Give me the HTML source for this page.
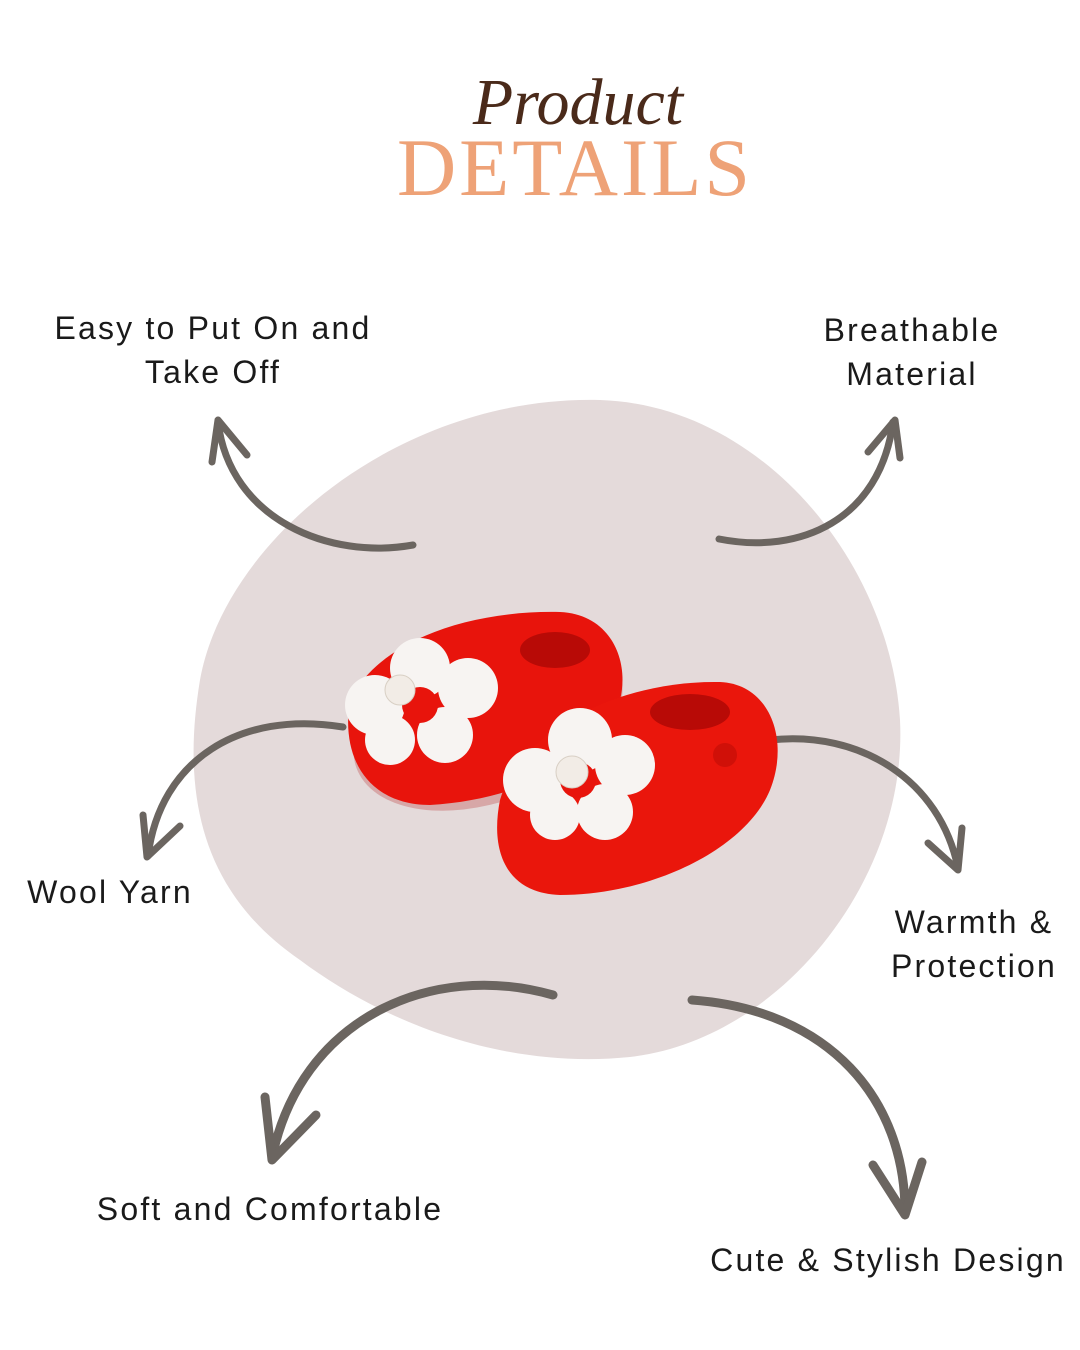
<!DOCTYPE html>
<html><head><style>
body{margin:0;width:1080px;height:1350px;background:#fff;position:relative;overflow:hidden;font-family:"Liberation Sans",sans-serif;}
.t{position:absolute;font-size:32px;color:#1a1a1a;letter-spacing:2.2px;text-align:center;line-height:44px;white-space:nowrap}
</style></head><body>
<svg width="1080" height="1350" style="position:absolute;left:0;top:0">
<path d="M600 400 C760 405 890 560 900 720 C908 880 780 1040 630 1057 C500 1070 380 1020 300 960 C205 895 180 800 200 680 C225 540 400 395 600 400 Z" fill="#e4dada"/>
<text x="578" y="124" text-anchor="middle" font-family="Liberation Serif,serif" font-style="italic" font-size="66" fill="#4a2a1a">Product</text>
<text x="575" y="195" text-anchor="middle" font-family="Liberation Serif,serif" font-size="82" fill="#eea277" letter-spacing="3">DETAILS</text>
<g fill="none" stroke="#6b6560" stroke-width="7" stroke-linecap="round" stroke-linejoin="round">
<path d="M413 545 C330 560 230 520 218 422"/><path d="M212 462 L218 420 L247 455"/>
<path d="M719 539 C800 555 880 520 893 422"/><path d="M868 452 L895 420 L900 458"/>
<path d="M343 727 C240 710 160 760 148 856"/><path d="M143 815 L147 857 L180 826"/>
<path d="M770 740 C860 730 940 780 958 868"/><path d="M928 843 L958 870 L962 828"/>
<path d="M553 995 C430 960 300 1020 272 1158" stroke-width="9"/><path d="M265 1097 L272 1160 L316 1115" stroke-width="9"/>
<path d="M692 1000 C830 1010 905 1100 905 1212" stroke-width="9"/><path d="M873 1165 L905 1215 L922 1162" stroke-width="9"/>
</g>
<g>
<ellipse cx="488" cy="720" rx="140" ry="82" fill="#b01010" opacity="0.25" transform="rotate(-20 488 720)"/>
<path d="M350 700 C380 640 470 610 560 612 C610 614 630 660 620 700 C600 760 520 800 430 805 C370 805 340 760 350 700Z" fill="#e8140c"/>
<ellipse cx="555" cy="650" rx="35" ry="18" fill="#b80a06"/>
<path d="M500 800 C520 730 620 680 720 682 C770 684 790 740 770 790 C745 850 650 895 560 895 C505 893 490 850 500 800Z" fill="#ea160c"/>
<ellipse cx="690" cy="712" rx="40" ry="18" fill="#b80a06"/>
<circle cx="725" cy="755" r="12" fill="#d01008"/>
<g fill="#f7f4f2">
<circle cx="375" cy="705" r="30"/><circle cx="420" cy="668" r="30"/><circle cx="468" cy="688" r="30"/><circle cx="445" cy="735" r="28"/><circle cx="390" cy="740" r="25"/>
<circle cx="535" cy="780" r="32"/><circle cx="580" cy="740" r="32"/><circle cx="625" cy="765" r="30"/><circle cx="605" cy="812" r="28"/><circle cx="555" cy="815" r="25"/>
</g>
<circle cx="420" cy="705" r="18" fill="#e8140c"/><circle cx="578" cy="780" r="18" fill="#e8140c"/>
<circle cx="400" cy="690" r="15" fill="#f2ece6" stroke="#d8cfc4"/><circle cx="572" cy="772" r="16" fill="#f2ece6" stroke="#d8cfc4"/>
</g>
</svg>
<div class="t" style="left:13px;top:306px;width:400px">Easy to Put On and<br>Take Off</div>
<div class="t" style="left:762px;top:308px;width:300px">Breathable<br>Material</div>
<div class="t" style="left:10px;top:870px;width:200px">Wool Yarn</div>
<div class="t" style="left:874px;top:900px;width:200px">Warmth &amp;<br>Protection</div>
<div class="t" style="left:70px;top:1187px;width:400px">Soft and Comfortable</div>
<div class="t" style="left:688px;top:1238px;width:400px">Cute &amp; Stylish Design</div>
</body></html>
